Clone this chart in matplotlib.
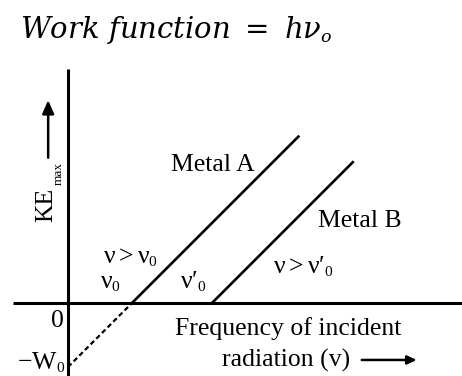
import matplotlib
matplotlib.use("Agg")
import matplotlib.pyplot as plt
import matplotlib._mathtext as mt

plt.rcParams['mathtext.fontset'] = 'custom'
plt.rcParams['mathtext.rm'] = 'Liberation Serif'
plt.rcParams['mathtext.it'] = 'Liberation Serif'
plt.rcParams['font.family'] = 'Liberation Serif'
# smaller subscripts, like the textbook figure style
mt.SHRINK_FACTOR = 0.6

# threshold frequencies / work function (arbitrary units, h = 1)
freq_a = [1.0, 3.6]
ke_a = [0.0, 2.6]
freq_b = [2.25, 4.45]
ke_b = [0.0, 2.2]
freq_ext = [0.0, 1.0]
ke_ext = [-1.0, 0.0]

fig = plt.figure(figsize=(4.62, 3.76), dpi=100)
ax = fig.add_axes([0, 0, 1, 1])
ax.set_xlim(-68 / 64, 394 / 64)
ax.set_ylim(-73 / 64, 303 / 64)
ax.axis('off')

# axes through the origin
ax.plot([-0.86, 6.2], [0, 0], color='black', lw=2.2, solid_capstyle='butt')
ax.plot([0, 0], [-1.2, 3.66], color='black', lw=2.2, solid_capstyle='butt')

ax.plot(freq_a, ke_a, color='black', lw=1.9)
ax.plot(freq_b, ke_b, color='black', lw=1.9)
ax.plot(freq_ext, ke_ext, color='black', lw=1.6, linestyle=(0, (2.2, 1.4)))

fs = 18.5
ax.text(2.27, 2.06, "Metal A", fontsize=fs, ha='center', va='baseline')
ax.text(4.56, 1.19, "Metal B", fontsize=fs, ha='center', va='baseline')
ax.text(0.97, 0.625, r"$\nu > \nu_0$", fontsize=fs, ha='center', va='baseline')
ax.text(0.67, 0.23, r"$\nu_0$", fontsize=fs, ha='center', va='baseline')
ax.text(1.95, 0.23, r"$\nu\prime_0$", fontsize=fs, ha='center', va='baseline')
ax.text(3.67, 0.47, r"$\nu > \nu\prime_0$", fontsize=fs, ha='center', va='baseline')
ax.text(-0.17, -0.375, "0", fontsize=fs, ha='center', va='baseline')
ax.text(-0.8, -1.03, r"$-\mathrm{W}_0$", fontsize=fs, ha='left', va='baseline')

ax.text(3.44, -0.5, "Frequency of incident", fontsize=fs, ha='center', va='baseline')
ax.text(2.41, -1.0, "radiation (v)", fontsize=fs, ha='left', va='baseline')
ax.annotate("", xy=(5.45, -0.89), xytext=(4.59, -0.89),
            arrowprops=dict(arrowstyle='-|>,head_length=0.55,head_width=0.25',
                            color='black', lw=1.8, shrinkA=0, shrinkB=0))

# y-axis label with its arrow
ax.text(-0.34, 1.53, "KE", fontsize=fs, rotation=90, ha='center', va='center')
ax.text(-0.14, 2.03, "max", fontsize=9.5, rotation=90, ha='center', va='center')
ax.annotate("", xy=(-0.31, 3.17), xytext=(-0.31, 2.27),
            arrowprops=dict(arrowstyle='-|>,head_length=0.8,head_width=0.35',
                            color='black', lw=1.8, shrinkA=0, shrinkB=0))

ax.text(-0.75, 4.14, r"$Work\ function\ =\ h\nu_o$", fontsize=21,
        math_fontfamily='dejavuserif', ha='left', va='baseline')

fig.savefig("out.png", dpi=100)
